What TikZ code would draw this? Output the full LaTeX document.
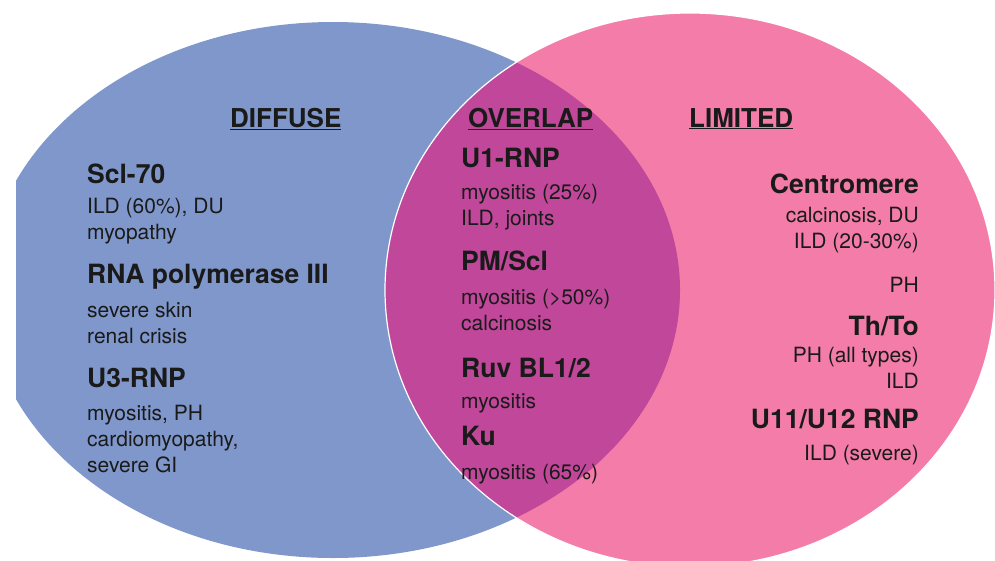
\documentclass[tikz,border=0pt]{standalone}
\usepackage{fontspec}
\setmainfont{TeX Gyre Heros}
\usepackage{xcolor}
\usetikzlibrary{positioning}

\definecolor{diffuseblue}{HTML}{7F97CB}
\definecolor{limitedpink}{HTML}{F37DA8}
\definecolor{overlapmagenta}{HTML}{C1479A}
\definecolor{textdark}{HTML}{1A1A1A}

\begin{document}
\begin{tikzpicture}[
    x=1pt, y=-1pt,
    every node/.style={text=textdark, inner sep=0pt},
    heading/.style={font=\fontsize{26}{30}\selectfont\bfseries, anchor=base west},
    antibody/.style={font=\fontsize{26.5}{30}\selectfont\bfseries, anchor=base #1},
    feature/.style={font=\fontsize{21}{26}\selectfont, anchor=base #1, align=left},
    rfeature/.style={font=\fontsize{21}{26}\selectfont, anchor=base east, align=right}
]
\useasboundingbox (0,0) rectangle (995,560);

% Diffuse set (cut off at the left edge)
\begin{scope}
  \clip (16,0) rectangle (995,560);
  \fill[diffuseblue] (333,290) ellipse [x radius=347, y radius=268];
\end{scope}

% Limited set
\fill[limitedpink] (690,290) ellipse [x radius=305, y radius=277];

% Overlap
\begin{scope}
  \clip (333,290) ellipse [x radius=347, y radius=268];
  \fill[overlapmagenta] (690,290) ellipse [x radius=305, y radius=277];
\end{scope}
\draw[white, line width=1.2pt] (690,290) ellipse [x radius=305, y radius=277];

% Headings
\node[heading] (diffuse) at (230,127) {\underline{DIFFUSE}};
\node[heading] (overlap) at (468,127) {\underline{OVERLAP}};
\node[heading] (limited) at (689,127) {\underline{LIMITED}};

% Diffuse antibodies (notes anchored at their last line)
\node[antibody=west] (scl) at (87,183) {Scl-70};
\node[feature=west] (sclnote) at (87,239) {ILD (60\%), DU\\myopathy};
\node[antibody=west] (rnapol) at (87,283) {RNA polymerase III};
\node[feature=west] (rnapolnote) at (87,343) {severe skin\\renal crisis};
\node[antibody=west] (u3) at (87,387) {U3-RNP};
\node[feature=west] (u3note) at (87,472) {myositis, PH\\cardiomyopathy,\\severe GI};

% Overlap antibodies
\node[antibody=west] (u1) at (461,167) {U1-RNP};
\node[feature=west] (u1note) at (461,225) {myositis (25\%)\\ILD, joints};
\node[antibody=west] (pmscl) at (461,270) {PM/Scl};
\node[feature=west] (pmsclnote) at (461,330) {myositis (>50\%)\\calcinosis};
\node[antibody=west] (ruv) at (461,377) {Ruv BL1/2};
\node[feature=west] (ruvnote) at (461,408) {myositis};
\node[antibody=west] (ku) at (461,445) {Ku};
\node[feature=west] (kunote) at (461,479) {myositis (65\%)};

% Limited antibodies
\node[antibody=east] (centro) at (919,193) {Centromere};
\node[rfeature] (centronote) at (919,248) {calcinosis, DU\\ILD (20-30\%)};
\node[rfeature] (centroph) at (919,292) {PH};
\node[antibody=east] (thto) at (919,335) {Th/To};
\node[rfeature] (thtonote) at (919,388) {PH (all types)\\ILD};
\node[antibody=east] (u11) at (919,428) {U11/U12 RNP};
\node[rfeature] (u11note) at (919,460) {ILD (severe)};

\end{tikzpicture}
\end{document}
